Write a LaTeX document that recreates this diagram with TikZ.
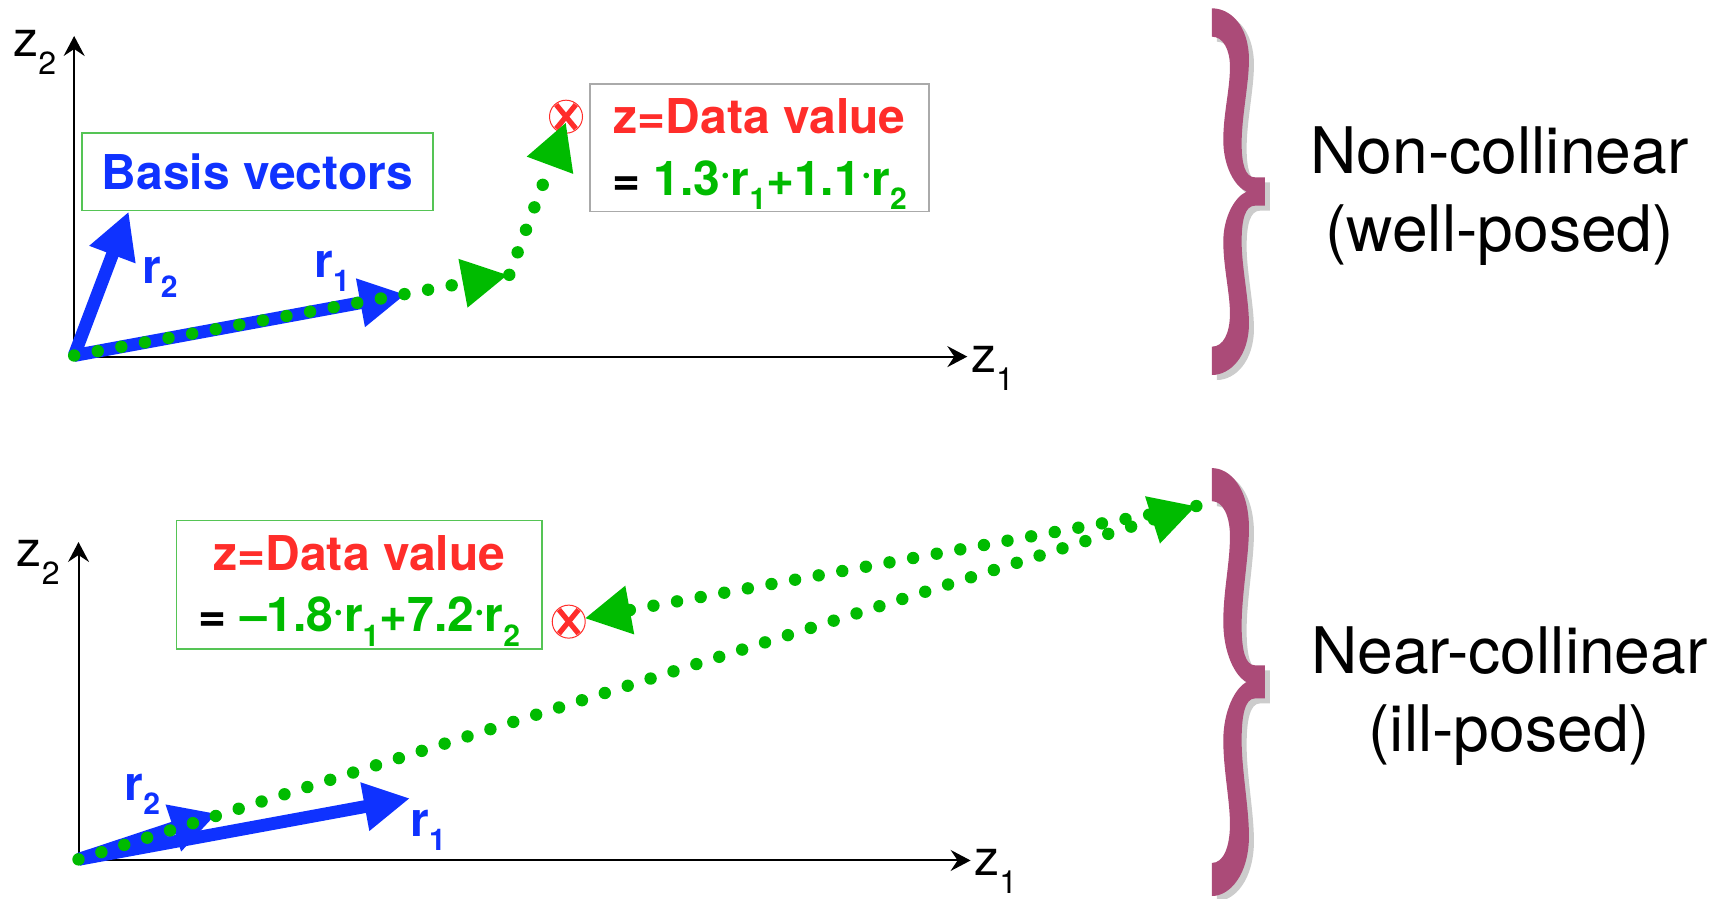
\documentclass[tikz,border=0pt]{standalone}
\usepackage{fontspec}
\setmainfont{TeX Gyre Heros}
\usetikzlibrary{arrows.meta}
\definecolor{myblue}{HTML}{0F32FF}
\definecolor{mygreen}{HTML}{00BB00}
\definecolor{myred}{HTML}{FF2D2A}
\definecolor{mypurple}{HTML}{AB4B78}
\definecolor{boxgreen}{HTML}{55C455}
\definecolor{boxgray}{HTML}{AAAAAA}
\definecolor{shadowgray}{HTML}{CCCCCC}
\newcommand\lowsub[1]{\raisebox{-0.3em}{\fontsize{15}{15}\selectfont #1}}
\newcommand\zsub[1]{\raisebox{-0.36em}{\fontsize{16}{16}\selectfont #1}}
\newcommand\smalldot{\raisebox{0.2em}{\fontsize{19}{19}\selectfont ·}}
\newcommand\bracecurve{(96,25) .. controls (150,25) and (207,75) .. (207,180) .. controls (207,250) and (185,350) .. (185,430) .. controls (185,490) and (195,532) .. (225,532) -- (255,532) -- (255,617) -- (225,617) .. controls (195,617) and (185,660) .. (185,725) .. controls (185,800) and (207,900) .. (207,970) .. controls (207,1070) and (150,1125) .. (96,1125) -- (96,1040) .. controls (130,1040) and (150,1000) .. (150,940) .. controls (150,880) and (130,800) .. (130,725) .. controls (130,650) and (165,590) .. (200,575) .. controls (165,560) and (130,500) .. (130,420) .. controls (130,340) and (150,270) .. (150,200) .. controls (150,150) and (130,110) .. (96,110) -- cycle}
\tikzset{
  axisline/.style={black,line width=1pt,-{Stealth[length=10pt,width=10.5pt,inset=3.5pt]}},
  basisarrow/.style={myblue,line width=6.4pt,-{Triangle[length=23pt,width=23pt]}},
  dotline/.style={mygreen,line width=6.2pt,line cap=round,dash pattern=on 0pt off 12pt},
  dotarrow/.style={dotline,-{Triangle[length=23pt,width=23pt]}},
  axislabel/.style={anchor=base west,inner sep=0pt,font=\fontsize{25}{25}\selectfont,text=black},
  basislabel/.style={anchor=base west,inner sep=0pt,font=\fontsize{24}{24}\bfseries\selectfont,text=myblue},
  bigtext/.style={inner sep=0pt,align=center,font=\fontsize{32.1}{39}\selectfont,text=black},
  infobox/.style={draw,line width=0.7pt,inner sep=0pt,align=center,font=\fontsize{24}{31.6}\bfseries\selectfont},
  markring/.style={circle,draw=myred,line width=0.5pt,minimum size=16.5pt,inner sep=0pt},
  markcross/.style={myred,line width=2.6pt},
}
\begin{document}
\begin{tikzpicture}[x=0.5453pt,y=-0.5453pt]
\useasboundingbox (0,0) rectangle (1568,823.5);
% ---- top panel
\coordinate (o1) at (68,326);
\coordinate (y1) at (68,33);
\coordinate (x1) at (887,327);
\coordinate (tr1) at (372,270);
\coordinate (tr2) at (118,194);
\coordinate (g1) at (466,252);
\coordinate (g1b) at (467,252);
\coordinate (g2) at (519,112);
\draw[axisline] (68,327) -- (y1);
\draw[axisline] (68,327) -- (x1);
\node[axislabel] (z21) at (12,52) {z\zsub{2}};
\node[axislabel] (z11) at (890,342) {z\zsub{1}};
\node[infobox,draw=boxgreen,minimum width=175.5pt,minimum height=38.7pt] (basis) at (236,157.5) {\textcolor{myblue}{Basis vectors}};
\node[infobox,draw=boxgray,minimum width=169.6pt,minimum height=63.8pt] (data1) at (696.5,135.5) {\rule{0pt}{24pt}\textcolor{myred}{z=Data value}\\[-1pt]= \textcolor{mygreen}{1.3\smalldot r\lowsub{1}+1.1\smalldot r\lowsub{2}}};
\node[markring] (m1) at (519,107) {};
\draw[markcross] (m1.center) ++(-9,-11) -- ++(18,22);
\draw[markcross] (m1.center) ++(9,-11) -- ++(-18,22);
\draw[basisarrow] (o1) -- (tr2);
\draw[basisarrow] (o1) -- (tr1);
\node[basislabel] (r21) at (130,260) {r\lowsub{2}};
\node[basislabel] (r11) at (288,254) {r\lowsub{1}};
\draw[dotarrow] (o1) -- (g1);
\draw[dotarrow] (g1b) -- (g2);
% ---- bottom panel
\coordinate (o2) at (72,788);
\coordinate (y2) at (72,497);
\coordinate (x2) at (890,789);
\coordinate (br1) at (376,732);
\coordinate (br2) at (199,746);
\coordinate (far) at (1097,464);
\coordinate (g3) at (536,567);
\draw[axisline] (72,789) -- (y2);
\draw[axisline] (72,789) -- (x2);
\node[axislabel] (z22) at (15,519) {z\zsub{2}};
\node[axislabel] (z12) at (893,803) {z\zsub{1}};
\node[infobox,draw=boxgreen,minimum width=182.6pt,minimum height=64.3pt] (data2) at (329.5,536) {\rule{0pt}{24pt}\textcolor{myred}{z=Data value}\\[-1pt]= \textcolor{mygreen}{–1.8\smalldot r\lowsub{1}+7.2\smalldot r\lowsub{2}}};
\node[markring] (m2) at (521.5,570) {};
\draw[markcross] (m2.center) ++(-9,-11) -- ++(18,22);
\draw[markcross] (m2.center) ++(9,-11) -- ++(-18,22);
\draw[basisarrow] (o2) -- (br2);
\draw[basisarrow] (o2) -- (br1);
\node[basislabel] (r22) at (114,734) {r\lowsub{2}};
\node[basislabel] (r12) at (376,767) {r\lowsub{1}};
\draw[dotarrow] (far) -- (g3);
\draw[dotarrow] (o2) -- (far);
% ---- braces
\begin{scope}[x=0.16667pt,y=-0.16667pt,xshift=590pt]
  \begin{scope}[xshift=2.5pt,yshift=-2.5pt]
    \fill[shadowgray] \bracecurve;
  \end{scope}
  \fill[mypurple] \bracecurve;
\end{scope}
\begin{scope}[x=0.16667pt,y=-0.1945pt,xshift=590pt,yshift=-229.2pt]
  \begin{scope}[xshift=2.5pt,yshift=-2.5pt]
    \fill[shadowgray] \bracecurve;
  \end{scope}
  \fill[mypurple] \bracecurve;
\end{scope}
\node[bigtext] (t1) at (1375,180) {Non-collinear\\(well-posed)};
\node[bigtext] (t2) at (1384,638) {Near-collinear\\(ill-posed)};
\end{tikzpicture}
\end{document}
